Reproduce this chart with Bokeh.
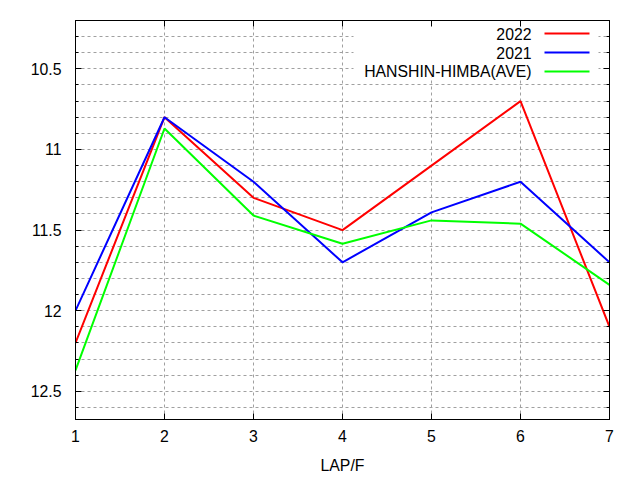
from bokeh.plotting import figure
from bokeh.models import (Range1d, LinearAxis, FixedTicker, Label, BoxAnnotation,
                          PolyAnnotation, Grid, CustomJSTickFormatter)
from bokeh.embed import file_html
from bokeh.resources import INLINE

# ---- data ----
laps = [1, 2, 3, 4, 5, 6, 7]
y2022 = [12.2, 10.8, 11.3, 11.5, 11.1, 10.7, 12.1]
y2021 = [12.0, 10.8, 11.2, 11.7, 11.39, 11.2, 11.7]
y_ave = [12.37, 10.87, 11.41, 11.585, 11.44, 11.46, 11.84]
series_names = ["2022", "2021", "HANSHIN-HIMBA(AVE)"]
series_colors = ["#ff0000", "#0000ff", "#00ff00"]
x_ticks = [1, 2, 3, 4, 5, 6, 7]
y_ticks = [10.5, 11.0, 11.5, 12.0, 12.5]
y_tick_labels = ["10.5", "11", "11.5", "12", "12.5"]
y_minor = [10.3, 10.4, 10.6, 10.7, 10.8, 10.9, 11.1, 11.2, 11.3, 11.4, 11.6, 11.7,
           11.8, 11.9, 12.1, 12.2, 12.3, 12.4, 12.6]
x_label = "LAP/F"

FONT = "Liberation Sans"
FS = "15.8px"
GRID = "#a0a0a0"

p = figure(width=640, height=480, output_backend="svg", toolbar_location=None,
           x_range=Range1d(1, 7), y_range=Range1d(12.675, 10.2),
           x_axis_type=None, y_axis_type=None,
           min_border_left=75, min_border_right=31, min_border_top=20,
           min_border_bottom=61)
p.background_fill_color = "white"
p.border_fill_color = "white"
p.outline_line_color = "black"
p.outline_line_width = 1

xt = FixedTicker(ticks=x_ticks, minor_ticks=[])
yt = FixedTicker(ticks=y_ticks, minor_ticks=y_minor)
overrides = {t: l for t, l in zip(y_ticks, y_tick_labels)}
blank = CustomJSTickFormatter(code="return '';")


def style_axis(ax, labels=True):
    ax.axis_line_color = "black"
    ax.major_tick_in = 6
    ax.major_tick_out = 0
    ax.minor_tick_in = 3
    ax.minor_tick_out = 0
    ax.major_tick_line_color = "black"
    ax.minor_tick_line_color = "black"
    ax.major_label_text_font = FONT
    ax.major_label_text_color = "black"
    ax.major_label_text_font_size = FS
    if not labels:
        ax.formatter = blank
        ax.major_label_standoff = 0


bottom = LinearAxis(ticker=xt, axis_label=x_label)
style_axis(bottom)
bottom.major_label_standoff = 10
bottom.axis_label_standoff = 12
bottom.axis_label_text_font = FONT
bottom.axis_label_text_font_size = FS
bottom.axis_label_text_font_style = "normal"
bottom.axis_label_text_color = "black"
p.add_layout(bottom, "below")

top = LinearAxis(ticker=xt)
style_axis(top, labels=False)
p.add_layout(top, "above")

left = LinearAxis(ticker=yt, major_label_overrides=overrides)
style_axis(left)
left.major_label_standoff = 14
p.add_layout(left, "left")

right = LinearAxis(ticker=yt)
style_axis(right, labels=False)
p.add_layout(right, "right")

xgrid = Grid(dimension=0, ticker=xt, grid_line_color=GRID, grid_line_dash="3 3",
             grid_line_width=1)
ygrid = Grid(dimension=1, ticker=yt, grid_line_color=GRID, grid_line_dash="3 3",
             grid_line_width=1, minor_grid_line_color=GRID,
             minor_grid_line_dash="3 3", minor_grid_line_width=1)
p.add_layout(xgrid, "center")
p.add_layout(ygrid, "center")

for ys, c in zip([y2022, y2021, y_ave], series_colors):
    p.line(laps, ys, line_color=c, line_width=2)

# legend (text left, sample right), screen units relative to frame
box = BoxAnnotation(left=278, right=523, bottom=342, top=399,
                    left_units="screen", right_units="screen",
                    bottom_units="screen", top_units="screen",
                    fill_color="white", fill_alpha=1.0, line_alpha=0,
                    level="underlay")
p.add_layout(box)
leg_y = [386, 367, 348]
for name, c, yy in zip(series_names, series_colors, leg_y):
    p.add_layout(Label(x=456, y=yy, x_units="screen", y_units="screen", text=name,
                       text_align="right", text_baseline="middle",
                       text_font=FONT, text_font_size=FS, text_color="black"))
    p.add_layout(PolyAnnotation(xs=[469, 514, 514, 469], ys=[yy - 1, yy - 1, yy + 1, yy + 1],
                                xs_units="screen", ys_units="screen",
                                fill_color=c, fill_alpha=1.0, line_alpha=0))

open("out.html", "w").write(file_html(p, INLINE))
